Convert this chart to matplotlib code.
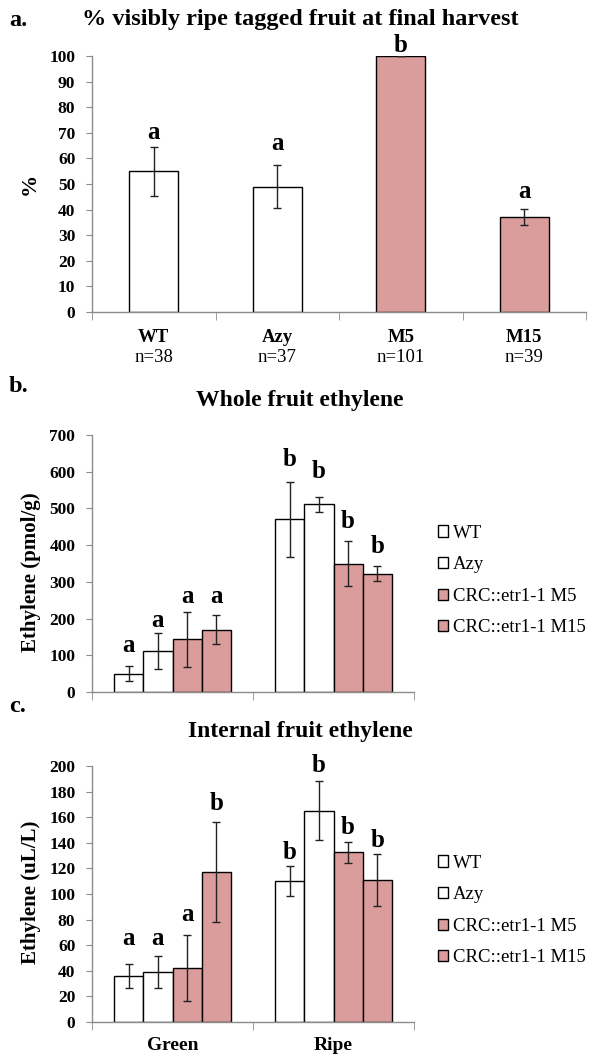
import numpy as np
import matplotlib
matplotlib.use('Agg')
import matplotlib.pyplot as plt
from matplotlib.patches import Patch

plt.rcParams['font.family'] = ['Liberation Serif', 'DejaVu Serif']

W, H = 592, 1059

# panel a data
lines_a = ['WT', 'Azy', 'M5', 'M15']
n_a = ['n=38', 'n=37', 'n=101', 'n=39']
ripe_pct = [55, 49, 100, 37]
ripe_err = [9.5, 8.3, 0, 3.2]
letters_a = ['a', 'a', 'b', 'a']
letters_a_y = [70, 66, 104, 47]

# panel b / c data
stages = ['Green', 'Ripe']
series = ['WT', 'Azy', 'CRC::etr1-1 M5', 'CRC::etr1-1 M15']

whole_eth = {'WT': [50, 470], 'Azy': [112, 511],
             'CRC::etr1-1 M5': [143, 350], 'CRC::etr1-1 M15': [170, 322]}
whole_err = {'WT': [21, 101], 'Azy': [48, 21],
             'CRC::etr1-1 M5': [75, 60], 'CRC::etr1-1 M15': [39, 21]}
whole_letters = {'WT': ['a', 'b'], 'Azy': ['a', 'b'],
                 'CRC::etr1-1 M5': ['a', 'b'], 'CRC::etr1-1 M15': ['a', 'b']}
whole_letters_y = {'WT': [128, 632], 'Azy': [196, 600],
                   'CRC::etr1-1 M5': [260, 464], 'CRC::etr1-1 M15': [260, 396]}

int_eth = {'WT': [36, 110], 'Azy': [39, 165],
           'CRC::etr1-1 M5': [42, 132.5], 'CRC::etr1-1 M15': [117, 111]}
int_err = {'WT': [9.3, 11.5], 'Azy': [12.3, 23],
           'CRC::etr1-1 M5': [25.7, 8], 'CRC::etr1-1 M15': [39, 20]}
int_letters = {'WT': ['a', 'b'], 'Azy': ['a', 'b'],
               'CRC::etr1-1 M5': ['a', 'b'], 'CRC::etr1-1 M15': ['b', 'b']}
int_letters_y = {'WT': [65, 132.5], 'Azy': [65, 200],
                 'CRC::etr1-1 M5': [84, 152], 'CRC::etr1-1 M15': [171, 142]}

PINK = '#DB9C9C'
colors = {'WT': 'white', 'Azy': 'white', 'CRC::etr1-1 M5': PINK, 'CRC::etr1-1 M15': PINK,
          'M5': PINK, 'M15': PINK}
AXC = '#8c8c8c'


def px_axes(left, top, right, bottom):
    return fig.add_axes([left / W, 1 - bottom / H, (right - left) / W, (bottom - top) / H])


def style_axes(ax):
    for s in ['top', 'right']:
        ax.spines[s].set_visible(False)
    for s in ['left', 'bottom']:
        ax.spines[s].set_color(AXC)
        ax.spines[s].set_linewidth(1.0)
    ax.tick_params(axis='y', direction='out', length=4, color=AXC, labelsize=12.5, pad=8)
    ax.tick_params(axis='x', which='major', length=0)
    ax.tick_params(axis='x', which='minor', length=6, color=AXC, direction='out')
    for lab in ax.get_yticklabels():
        lab.set_fontweight('bold')


fig = plt.figure(figsize=(W / 100, H / 100), dpi=100)

# ---- panel a ----
ax = px_axes(92, 56, 586, 312)
x = np.arange(len(lines_a))
ax.bar(x, ripe_pct, 0.4, color=[colors[l] for l in lines_a], edgecolor='black', linewidth=1,
       yerr=ripe_err, error_kw=dict(ecolor='#222222', elinewidth=1, capsize=3, capthick=1))
for i, l in enumerate(letters_a):
    ax.text(x[i], letters_a_y[i], l, ha='center', va='center', fontsize=18, fontweight='bold')
ax.set_xlim(-0.5, len(lines_a) - 0.5)
ax.set_ylim(0, 100)
ax.set_yticks(np.arange(0, 101, 10))
ax.set_xticks(x)
ax.set_xticklabels([])
ax.set_xticks(np.arange(-0.5, len(lines_a), 1), minor=True)
style_axes(ax)
for i in range(len(lines_a)):
    ax.text(x[i], -0.098, lines_a[i], transform=ax.get_xaxis_transform(), ha='center', va='center',
            fontsize=13.5, fontweight='bold')
    ax.text(x[i], -0.178, n_a[i], transform=ax.get_xaxis_transform(), ha='center', va='center',
            fontsize=13.5)
fig.text(30 / W, 1 - 184 / H, '%', rotation=90, ha='center', va='center', fontsize=16, fontweight='bold')
fig.text(300 / W, 1 - 20 / H, '% visibly ripe tagged fruit at final harvest', ha='center', va='center',
         fontsize=17.5, fontweight='bold')
fig.text(9 / W, 1 - 20 / H, 'a.', ha='left', va='center', fontsize=17.5, fontweight='bold')


def grouped(ax, vals, errs, letters, letters_y, ymax, ystep):
    bw = 0.181
    xs = np.arange(len(stages))
    for k, s in enumerate(series):
        off = (k - 1.5) * bw
        ax.bar(xs + off, vals[s], bw, color=colors[s], edgecolor='black', linewidth=1,
               yerr=errs[s], error_kw=dict(ecolor='#222222', elinewidth=1, capsize=3, capthick=1))
        for j in range(len(stages)):
            ax.text(xs[j] + off, letters_y[s][j], letters[s][j], ha='center', va='center',
                    fontsize=18, fontweight='bold')
    ax.set_xlim(-0.5, len(stages) - 0.5)
    ax.set_ylim(0, ymax)
    ax.set_yticks(np.arange(0, ymax + 1, ystep))
    ax.set_xticks(xs)
    ax.set_xticks(np.arange(-0.5, len(stages), 1), minor=True)
    style_axes(ax)


# ---- panel b ----
axb = px_axes(92, 435, 414, 692)
grouped(axb, whole_eth, whole_err, whole_letters, whole_letters_y, 700, 100)
axb.set_xticklabels([])
fig.text(31 / W, 1 - 572 / H, 'Ethylene (pmol/g)', rotation=90, ha='center', va='center',
         fontsize=15, fontweight='bold')
fig.text(300 / W, 1 - 400 / H, 'Whole fruit ethylene', ha='center', va='center',
         fontsize=17, fontweight='bold')
fig.text(9 / W, 1 - 387 / H, 'b.', ha='left', va='center', fontsize=17.5, fontweight='bold')

# ---- panel c ----
axc = px_axes(92, 766, 414, 1022)
grouped(axc, int_eth, int_err, int_letters, int_letters_y, 200, 20)
axc.set_xticklabels(stages, fontsize=14, fontweight='bold')
axc.tick_params(axis='x', which='major', pad=11)
fig.text(31 / W, 1 - 892 / H, 'Ethylene (uL/L)', rotation=90, ha='center', va='center',
         fontsize=15, fontweight='bold')
fig.text(300 / W, 1 - 732 / H, 'Internal fruit ethylene', ha='center', va='center',
         fontsize=17, fontweight='bold')
fig.text(9 / W, 1 - 707 / H, 'c.', ha='left', va='center', fontsize=17.5, fontweight='bold')

handles = [Patch(facecolor=colors[s], edgecolor='black', linewidth=1) for s in series]
for cy in [580.5, 910.5]:
    fig.legend(handles, series, loc='center left', bbox_to_anchor=(438 / W, 1 - cy / H),
               frameon=False, fontsize=13.5, handlelength=0.55, handleheight=0.55,
               handletextpad=0.25, labelspacing=0.78, borderaxespad=0, borderpad=0)

fig.savefig('out.png', dpi=100)
